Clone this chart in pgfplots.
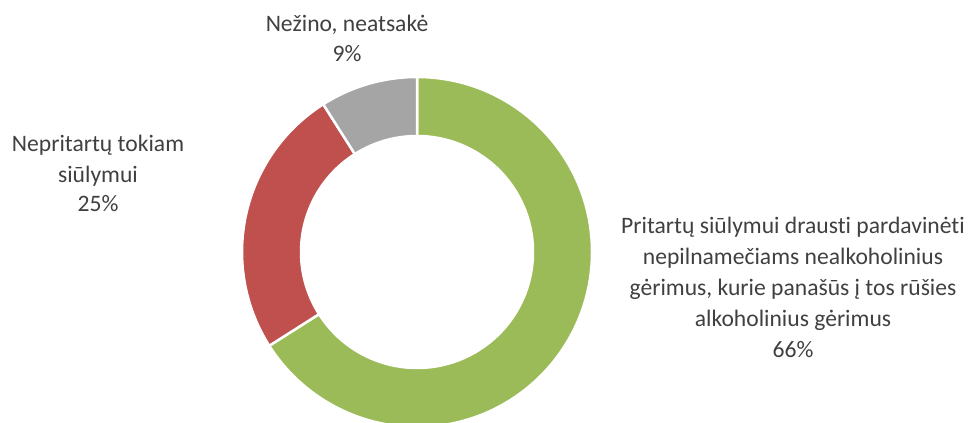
\documentclass[border=0pt]{standalone}
\usepackage{pgfplots}
\pgfplotsset{compat=1.18}
\usepackage{fontspec}
\setmainfont{Carlito}[Ligatures={NoCommon}]

\definecolor{pgreen}{HTML}{9BBB59}
\definecolor{pred}{HTML}{C0504D}
\definecolor{pgrey}{HTML}{A5A5A5}
\definecolor{labelgrey}{HTML}{404040}

\tikzset{lab/.style={font=\fontsize{23.6bp}{30bp}\selectfont,text=labelgrey,anchor=base,inner sep=0pt}}

% donut geometry in pixel units (1 unit = 1bp)
\def\cx{417}\def\cy{171}\def\ro{175}\def\ri{116}

% slice between two cumulative percentages, clockwise from the top
\newcommand\donutslice[3]{%
  \fill[#3,draw=white,line width=2.5bp]
    (axis cs:{\cx+\ro*cos(90-3.6*#1)},{\cy+\ro*sin(90-3.6*#1)})
    arc[start angle={90-3.6*#1},end angle={90-3.6*#2},radius=\ro bp]
    -- (axis cs:{\cx+\ri*cos(90-3.6*#2)},{\cy+\ri*sin(90-3.6*#2)})
    arc[start angle={90-3.6*#2},end angle={90-3.6*#1},radius=\ri bp]
    -- cycle;}

\begin{document}
\begin{tikzpicture}
\begin{axis}[scale only axis,width=971bp,height=423bp,
 xmin=0,xmax=971,ymin=0,ymax=423,
 axis line style={draw=none},xtick=\empty,ytick=\empty]
\begin{scope}
\clip (axis cs:0,0) rectangle (axis cs:971,423);
% shares: 66, 25, 9 (%)
\donutslice{0}{66}{pgreen}
\donutslice{66}{91}{pred}
\donutslice{91}{100}{pgrey}
\end{scope}

\node[lab] at (axis cs:347,391) {Nežino, neatsakė};
\node[lab] at (axis cs:347,361) {9\%};

\node[lab] at (axis cs:98,271) {Nepritartų tokiam};
\node[lab] at (axis cs:98,240) {siūlymui};
\node[lab] at (axis cs:98,211) {25\%};

\node[lab] at (axis cs:793,189) {Pritartų siūlymui drausti pardavinėti};
\node[lab] at (axis cs:793,158) {nepilnamečiams nealkoholinius};
\node[lab] at (axis cs:793,127) {gėrimus, kurie panašūs į tos rūšies};
\node[lab] at (axis cs:793,96) {alkoholinius gėrimus};
\node[lab] at (axis cs:793,65) {66\%};
\end{axis}
\end{tikzpicture}
\end{document}
